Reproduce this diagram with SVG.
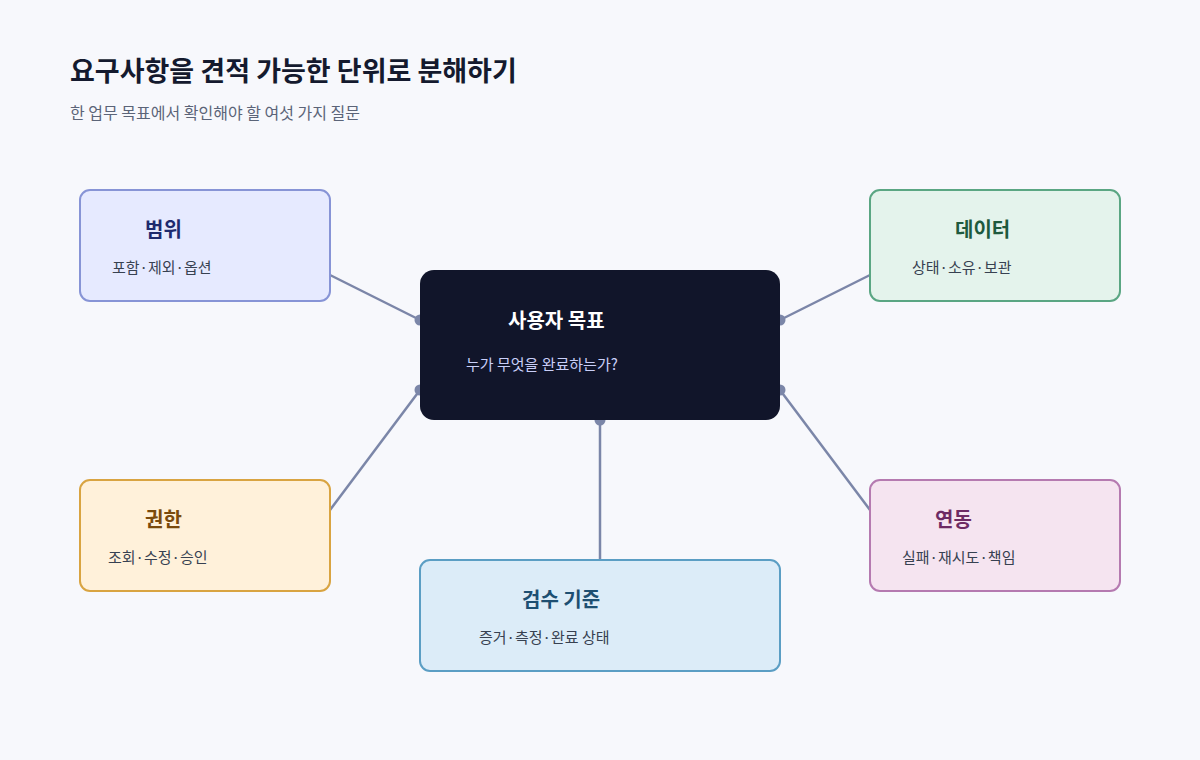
<svg xmlns="http://www.w3.org/2000/svg" width="1200" height="760" viewBox="0 0 1200 760">
<style>
text{font-family:"Noto Sans CJK KR","Noto Sans",sans-serif}
.t{font-size:20px;font-weight:700}
.s{font-size:15px;fill:#374151}
.box{stroke-width:2}
.c{stroke:#7b86a8;stroke-width:2.5;fill:none}
.d{fill:#7b86a8}
</style>
<rect width="1200" height="760" fill="#f7f8fc"/>
<text x="70" y="81" font-size="27" font-weight="700" fill="#141a2e">요구사항을 견적 가능한 단위로 분해하기</text>
<text x="70" y="119" font-size="16" fill="#5b6478">한 업무 목표에서 확인해야 할 여섯 가지 질문</text>
<g id="connectors">
<path class="c" d="M330 275L420 320M870 275L780 320M330 510L420 390M870 510L780 390M600 560L600 420"/>
<circle class="d" cx="420" cy="320" r="5.5"/><circle class="d" cx="780" cy="320" r="5.5"/>
<circle class="d" cx="420" cy="390" r="5.5"/><circle class="d" cx="780" cy="390" r="5.5"/>
<circle class="d" cx="600" cy="420" r="5.5"/>
</g>
<g id="goal">
<rect x="420" y="270" width="360" height="150" rx="14" fill="#11152a"/>
<text class="t" x="508" y="328" fill="#fff">사용자 목표</text>
<text x="466" y="370" font-size="15" fill="#c9cff8">누가 무엇을 완료하는가?</text>
</g>
<g id="scope">
<rect class="box" x="80" y="190" width="250" height="111" rx="10" fill="#e6eaff" stroke="#8794d6"/>
<text class="t" x="145" y="237" fill="#1e2a6e">범위</text>
<text class="s" x="112" y="273">포함·제외·옵션</text>
</g>
<g id="data">
<rect class="box" x="870" y="190" width="250" height="111" rx="10" fill="#e4f3ec" stroke="#5aa683"/>
<text class="t" x="955" y="237" fill="#1e5a3e">데이터</text>
<text class="s" x="912" y="273">상태·소유·보관</text>
</g>
<g id="perm">
<rect class="box" x="80" y="480" width="250" height="111" rx="10" fill="#fff1da" stroke="#d9a441"/>
<text class="t" x="145" y="527" fill="#7a4a0c">권한</text>
<text class="s" x="108" y="563">조회·수정·승인</text>
</g>
<g id="accept">
<rect class="box" x="420" y="560" width="360" height="111" rx="10" fill="#dcecf8" stroke="#5b9ec4"/>
<text class="t" x="522" y="607" fill="#1d4f72">검수 기준</text>
<text class="s" x="479" y="643">증거·측정·완료 상태</text>
</g>
<g id="integ">
<rect class="box" x="870" y="480" width="250" height="111" rx="10" fill="#f5e4f0" stroke="#b57ab0"/>
<text class="t" x="935" y="527" fill="#6d2a63">연동</text>
<text class="s" x="902" y="563">실패·재시도·책임</text>
</g>
</svg>
